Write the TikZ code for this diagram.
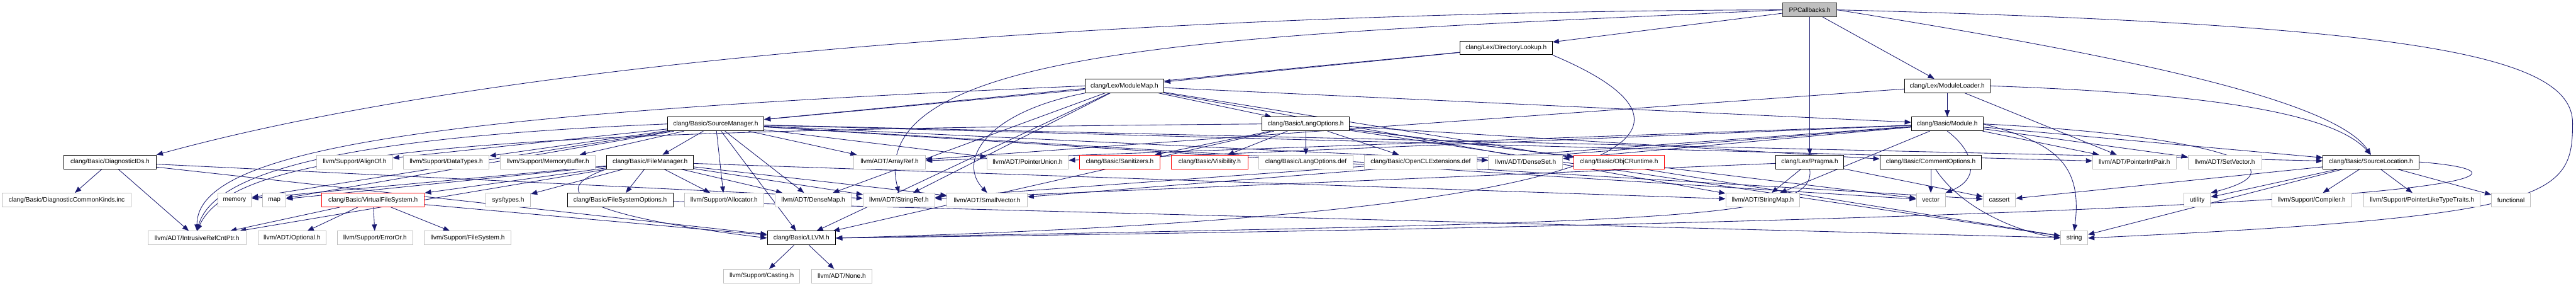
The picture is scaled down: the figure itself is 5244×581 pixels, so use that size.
\documentclass[tikz,border=0pt]{standalone}
\usepackage{fontspec}
\setmainfont{Liberation Sans}
\usetikzlibrary{arrows.meta,backgrounds}
\definecolor{edgec}{RGB}{25,25,112}
\definecolor{grayb}{RGB}{191,191,191}
\newcommand\nd[6]{\node[#1, minimum width={#4-#3}] (#2) at ({(#3+#4)/2},#5) {#6};}
\begin{document}
\begin{tikzpicture}[x=1pt,y=1pt,
  box/.style={draw=grayb, line width=1.2pt, fill=white, minimum height=28pt, inner sep=0pt, font=\fontsize{13}{16}\selectfont},
  hdr/.style={box, draw=black},
  trunc/.style={box, draw=red},
  root/.style={box, draw=black!75, fill=grayb},
  edge/.style={draw=edgec, line width=1.1pt, -{Triangle[length=13pt,width=10pt]}}
]
\useasboundingbox (0,0) rectangle (5244,-581);
% row 0-3
\nd{root}{ppc}{3629}{3739}{-20}{PPCallbacks.h}
\nd{hdr}{dirl}{2972}{3160}{-97.3}{clang/Lex/DirectoryLookup.h}
\nd{hdr}{mmap}{2209}{2369}{-174.6}{clang/Lex/ModuleMap.h}
\nd{hdr}{mload}{3877}{4051}{-174.6}{clang/Lex/ModuleLoader.h}
\nd{hdr}{sm}{1359}{1555}{-251.9}{clang/Basic/SourceManager.h}
\nd{hdr}{lo}{2569}{2747}{-251.9}{clang/Basic/LangOptions.h}
\nd{hdr}{mod}{3891}{4037}{-251.9}{clang/Basic/Module.h}
% row 4
\nd{hdr}{diag}{130}{318}{-329.2}{clang/Basic/DiagnosticIDs.h}
\nd{box}{align}{645}{799}{-329.2}{llvm/Support/AlignOf.h}
\nd{box}{dtypes}{821}{996}{-329.2}{llvm/Support/DataTypes.h}
\nd{box}{mbuf}{1019}{1212}{-329.2}{llvm/Support/MemoryBuffer.h}
\nd{hdr}{fm}{1235}{1412}{-329.2}{clang/Basic/FileManager.h}
\nd{box}{aref}{1738}{1884}{-329.2}{llvm/ADT/ArrayRef.h}
\nd{box}{punion}{2009}{2175}{-329.2}{llvm/ADT/PointerUnion.h}
\nd{trunc}{sanit}{2198}{2361}{-329.2}{clang/Basic/Sanitizers.h}
\nd{trunc}{vis}{2385}{2540}{-329.2}{clang/Basic/Visibility.h}
\nd{box}{lodef}{2563}{2754}{-329.2}{clang/Basic/LangOptions.def}
\nd{box}{ocl}{2777}{3007}{-329.2}{clang/Basic/OpenCLExtensions.def}
\nd{box}{dset}{3030}{3181}{-329.2}{llvm/ADT/DenseSet.h}
\nd{trunc}{objc}{3204}{3388}{-329.2}{clang/Basic/ObjCRuntime.h}
\nd{hdr}{pragma}{3615}{3753}{-329.2}{clang/Lex/Pragma.h}
\nd{hdr}{copt}{3827}{4034}{-329.2}{clang/Basic/CommentOptions.h}
\nd{box}{pip}{4260}{4430}{-329.2}{llvm/ADT/PointerIntPair.h}
\nd{box}{svec}{4454}{4604}{-329.2}{llvm/ADT/SetVector.h}
\nd{hdr}{sloc}{4729}{4924}{-329.2}{clang/Basic/SourceLocation.h}
% row 5
\nd{box}{dck}{4.5}{267}{-406.5}{clang/Basic/DiagnosticCommonKinds.inc}
\nd{box}{memory}{443}{512}{-406.5}{memory}
\nd{box}{map}{535}{582}{-406.5}{map}
\nd{trunc}{vfs}{655}{864}{-406.5}{clang/Basic/VirtualFileSystem.h}
\nd{box}{systypes}{989}{1080}{-406.5}{sys/types.h}
\nd{hdr}{fso}{1155}{1370}{-406.5}{clang/Basic/FileSystemOptions.h}
\nd{box}{alloc}{1393}{1555}{-406.5}{llvm/Support/Allocator.h}
\nd{box}{dmap}{1578}{1733}{-406.5}{llvm/ADT/DenseMap.h}
\nd{box}{sref}{1757}{1903}{-406.5}{llvm/ADT/StringRef.h}
\nd{box}{svecs}{1928}{2091}{-406.5}{llvm/ADT/SmallVector.h}
\nd{box}{smap}{3513}{3664}{-406.5}{llvm/ADT/StringMap.h}
\nd{box}{vector}{3901}{3960}{-406.5}{vector}
\nd{box}{cassert}{4037}{4103}{-406.5}{cassert}
\nd{box}{utility}{4446}{4500}{-406.5}{utility}
\nd{box}{compiler}{4625}{4787}{-406.5}{llvm/Support/Compiler.h}
\nd{box}{pltt}{4812}{5049}{-406.5}{llvm/Support/PointerLikeTypeTraits.h}
\nd{box}{functional}{5072}{5151}{-406.5}{functional}
% row 6-7
\nd{box}{irc}{301}{501}{-483.8}{llvm/ADT/IntrusiveRefCntPtr.h}
\nd{box}{optional}{525}{664}{-483.8}{llvm/ADT/Optional.h}
\nd{box}{erroror}{687}{840}{-483.8}{llvm/Support/ErrorOr.h}
\nd{box}{fsys}{864}{1040}{-483.8}{llvm/Support/FileSystem.h}
\nd{hdr}{llvmh}{1562}{1701}{-483.8}{clang/Basic/LLVM.h}
\nd{box}{string}{4195}{4250}{-483.8}{string}
\nd{box}{casting}{1473}{1628}{-561.1}{llvm/Support/Casting.h}
\nd{box}{none}{1652}{1775}{-561.1}{llvm/ADT/None.h}

\begin{pgfonlayer}{background}
% PPCallbacks
\draw[edge] (ppc.west) .. controls (2719,-22) and (1179,-79) .. (diag.north east);
\draw[edge] (ppc) -- (dirl);
\draw[edge] (ppc) -- (mload);
\draw[edge] (ppc) -- (pragma);
\draw[edge] (ppc.west) .. controls (2600,-70) and (1750,-80) .. (sref.north);
\draw[edge] (ppc.east) .. controls (4300,-110) and (4750,-200) .. (sloc.north);
\draw[edge] (ppc.east) .. controls (4900,-50) and (5237,-110) .. (5237,-250) .. controls (5237,-400) and (5200,-440) .. (string.east);
% DirectoryLookup
\draw[edge] (dirl) -- (sm);
\draw[edge] (dirl) -- (mmap);
\draw[edge] (dirl.south east) .. controls (3560,-280) and (3300,-440) .. (llvmh.east);
% ModuleMap
\draw[edge] (mmap) -- (lo);
\draw[edge] (mmap) -- (mod);
\draw[edge] (mmap) -- (sm);
\draw[edge] (mmap) -- (dmap);
\draw[edge] (mmap.west) .. controls (900,-230) and (400,-300) .. (irc.north);
\draw[edge] (mmap.south west) .. controls (2000,-230) and (1950,-330) .. (svecs.north);
\draw[edge] (mmap) -- (smap);
\draw[edge] (mmap) -- (sref);
\draw[edge] (mmap) -- (string);
\draw[edge] (mmap) -- (llvmh);
% ModuleLoader
\draw[edge] (mload) -- (mod);
\draw[edge] (mload.east) .. controls (4500,-190) and (4750,-230) .. (sloc.north);
\draw[edge] (mload) -- (aref);
\draw[edge] (mload) -- (pip);
% SourceManager
\draw[edge] (sm) -- (fm);
\draw[edge] (sm) -- (llvmh);
\draw[edge] (sm) -- (sloc);
\draw[edge] (sm) -- (aref);
\draw[edge] (sm) -- (dmap);
\draw[edge] (sm) -- (dset);
\draw[edge] (sm.west) .. controls (800,-275) and (440,-330) .. (irc.north);
\draw[edge] (sm) -- (pip);
\draw[edge] (sm) -- (punion);
\draw[edge] (sm) -- (align);
\draw[edge] (sm) -- (alloc);
\draw[edge] (sm) -- (dtypes);
\draw[edge] (sm) -- (mbuf);
\draw[edge] (sm) -- (cassert);
\draw[edge] (sm) -- (map);
\draw[edge] (sm) -- (memory);
\draw[edge] (sm) -- (vector);
% LangOptions
\draw[edge] (lo) -- (copt);
\draw[edge] (lo) -- (llvmh);
\draw[edge] (lo) -- (objc);
\draw[edge] (lo) -- (sanit);
\draw[edge] (lo) -- (vis);
\draw[edge] (lo.west) .. controls (1000,-265) and (480,-300) .. (irc.north);
\draw[edge] (lo) -- (string);
\draw[edge] (lo) -- (vector);
\draw[edge] (lo) -- (lodef);
\draw[edge] (lo) -- (ocl);
% Module
\draw[edge] (mod) -- (sloc);
\draw[edge] (mod) -- (aref);
\draw[edge] (mod) -- (dset);
\draw[edge] (mod) -- (pip);
\draw[edge] (mod) -- (punion);
\draw[edge] (mod) -- (svec);
\draw[edge] (mod) -- (svecs);
\draw[edge] (mod) -- (smap);
\draw[edge] (mod) -- (sref);
\draw[edge] (mod.east) .. controls (4180,-290) and (4240,-330) .. (string.north);
\draw[edge] (mod.east) .. controls (4500,-275) and (4700,-340) .. (utility.north east);
\draw[edge] (mod.south) .. controls (4010,-300) and (4040,-360) .. (vector.north east);
% DiagnosticIDs
\draw[edge] (diag) -- (dck);
\draw[edge] (diag) -- (irc);
\draw[edge] (diag) -- (llvmh);
\draw[edge] (diag) -- (sref);
% FileManager
\draw[edge] (fm) -- (fso);
\draw[edge] (fm) -- (vfs);
\draw[edge] (fm) -- (dmap);
\draw[edge] (fm) -- (irc);
\draw[edge] (fm) -- (svecs);
\draw[edge] (fm) -- (smap);
\draw[edge] (fm) -- (sref);
\draw[edge] (fm) -- (alloc);
\draw[edge] (fm) -- (memory);
\draw[edge] (fm) -- (systypes);
\draw[edge] (fm) -- (map);
\draw[edge] (fm.south west) .. controls (1100,-390) and (1200,-440) .. (llvmh.west);
% Pragma
\draw[edge] (pragma) -- (smap);
\draw[edge] (pragma) -- (cassert);
\draw[edge] (pragma) -- (sref);
\draw[edge] (pragma.south) .. controls (3700,-450) and (3400,-450) .. (llvmh.east);
% CommentOptions
\draw[edge] (copt) -- (vector);
\draw[edge] (copt) .. controls (3990,-420) and (4100,-470) .. (string.west);
% SourceLocation
\draw[edge] (sloc) -- (compiler);
\draw[edge] (sloc) -- (pltt);
\draw[edge] (sloc) -- (functional);
\draw[edge] (sloc) -- (utility);
\draw[edge] (sloc) -- (cassert);
\draw[edge] (sloc) -- (string);
\draw[edge] (sloc.east) .. controls (5200,-350) and (5200,-440) .. (llvmh.east);
% FileSystemOptions
\draw[edge] (fso) -- (string);
% VirtualFileSystem
\draw[edge] (vfs) -- (irc);
\draw[edge] (vfs) -- (optional);
\draw[edge] (vfs) -- (erroror);
\draw[edge] (vfs) -- (fsys);
\draw[edge] (vfs) -- (llvmh);
% LLVM
\draw[edge] (llvmh) -- (casting);
\draw[edge] (llvmh) -- (none);
\end{pgfonlayer}
\end{tikzpicture}
\end{document}
